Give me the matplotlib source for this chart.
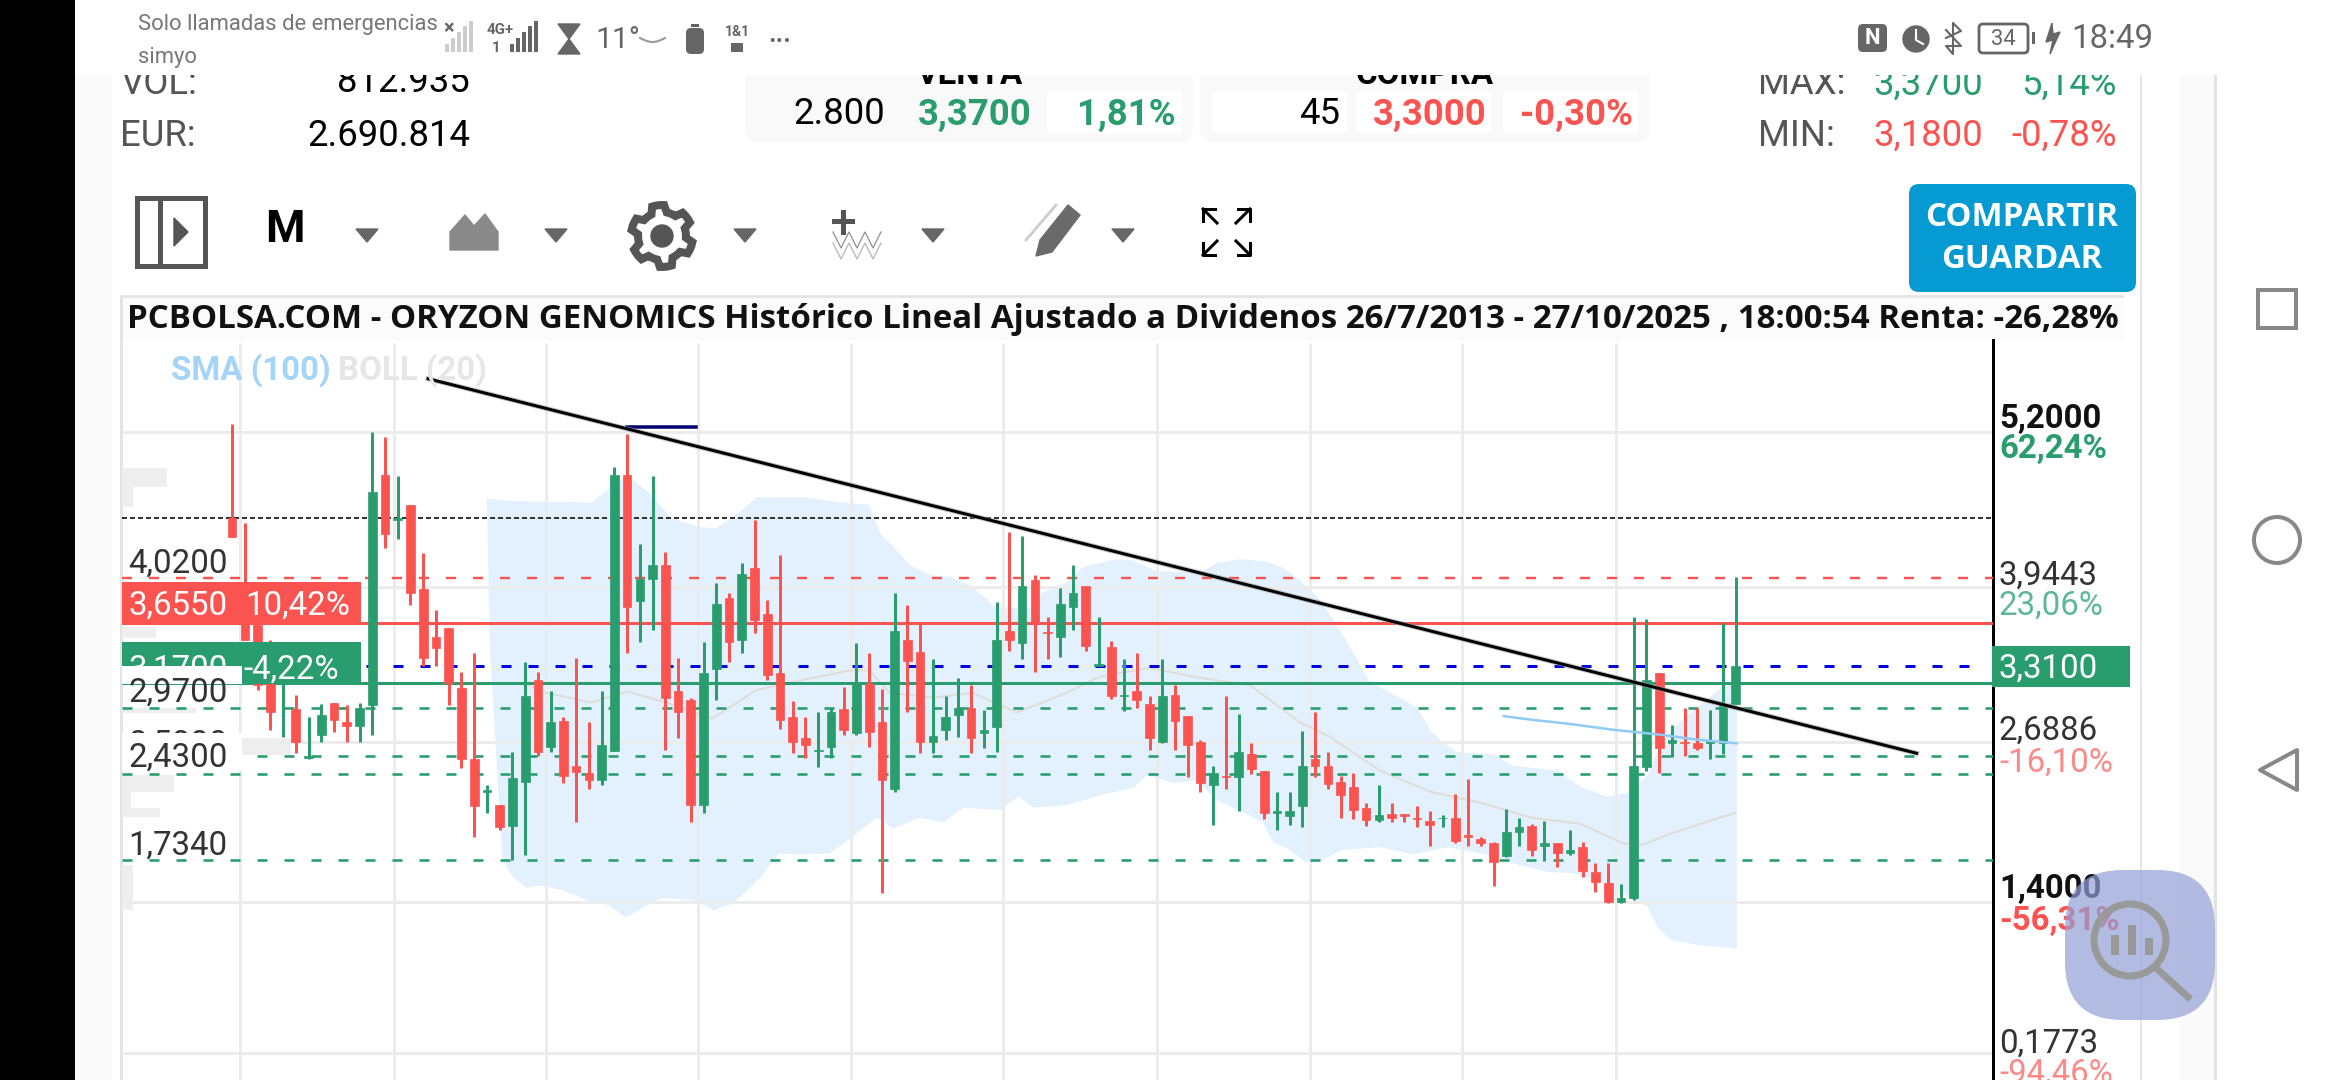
"""
Monthly candlestick screen for Oryzon Genomics with trend line and price levels.
"""

import numpy as np
import matplotlib
matplotlib.use("Agg")
import matplotlib.pyplot as plt
from matplotlib.patches import Rectangle, FancyBboxPatch, Polygon, Circle, Ellipse

plt.rcParams["font.family"] = ["Roboto", "DejaVu Sans"]
plt.rcParams["lines.scale_dashes"] = False

GREEN = "#2a9d6f"
RED = "#fb5350"
GRID = "#ececec"
PX = 0.72  # points per pixel at dpi 100

opens = [
    4.50, 3.84, 3.64, 3.44, 3.26, 2.96, 2.56, 2.75, 3.01, 2.85, 2.82, 2.99,
    4.85, 4.49, 4.61, 3.93, 3.54, 3.61, 3.13, 2.55, 2.29, 2.18, 2.01, 2.37,
    3.19, 2.65, 2.86, 2.50, 2.44, 2.38, 2.62, 4.85, 3.83, 4.01, 4.12, 3.10,
    3.03, 2.18, 3.28, 3.86, 3.52, 4.10, 3.73, 3.25, 2.89, 2.72, 2.62, 2.65,
    2.96, 2.76, 3.16, 2.85, 2.31, 3.52, 3.42, 2.69, 2.79, 2.91, 2.97, 2.76,
    2.81, 3.59, 3.49, 4.00, 3.58, 3.54, 3.78, 3.95, 3.31, 3.46, 3.06, 3.10,
    3.00, 2.69, 3.07, 2.90, 2.69, 2.34, 2.42, 2.41, 2.59, 2.46, 2.12, 2.09,
    2.17, 2.55, 2.50, 2.37, 2.33, 2.16, 2.06, 2.11, 2.11, 2.08, 2.05, 2.08,
    2.08, 1.94, 1.91, 1.87, 1.77, 1.96, 2.01, 1.85, 1.87, 1.79, 1.84, 1.64,
    1.55, 1.40, 1.43, 2.49, 3.25, 2.68, 2.69, 2.68, 2.68, 2.68, 3.00,
]
closes = [
    4.35, 3.52, 3.15, 2.93, 3.27, 2.69, 2.58, 2.91, 2.87, 2.82, 2.97, 4.71,
    4.37, 4.50, 3.90, 3.37, 3.45, 3.17, 2.55, 2.17, 2.30, 2.00, 2.40, 3.06,
    2.61, 2.85, 2.42, 2.45, 2.38, 2.67, 4.85, 3.78, 4.01, 4.12, 3.05, 2.93,
    2.18, 3.25, 3.81, 3.50, 4.05, 3.68, 3.23, 2.87, 2.69, 2.67, 2.63, 2.93,
    2.79, 3.17, 2.77, 2.38, 3.59, 3.35, 2.69, 2.74, 2.89, 2.97, 2.72, 2.79,
    3.52, 3.52, 3.95, 3.65, 3.57, 3.81, 3.90, 3.47, 3.32, 3.06, 3.07, 3.03,
    2.72, 3.06, 2.86, 2.67, 2.36, 2.44, 2.41, 2.61, 2.47, 2.12, 2.13, 2.13,
    2.50, 2.50, 2.35, 2.26, 2.14, 2.06, 2.10, 2.08, 2.09, 2.07, 2.02, 2.08,
    1.89, 1.92, 1.87, 1.72, 1.96, 2.00, 1.82, 1.87, 1.79, 1.82, 1.65, 1.56,
    1.40, 1.43, 2.50, 3.19, 2.64, 2.71, 2.68, 2.64, 2.70, 3.00, 3.31,
]
highs = [
    5.26, 4.46, 3.65, 3.52, 3.31, 3.07, 2.89, 3.00, 3.01, 2.99, 3.01, 5.20,
    5.16, 4.84, 4.61, 4.22, 3.76, 3.61, 3.26, 3.41, 2.34, 2.18, 2.61, 3.34,
    3.26, 3.10, 2.89, 3.37, 2.85, 3.10, 4.92, 5.18, 4.29, 4.84, 4.23, 3.37,
    3.05, 3.50, 3.98, 3.90, 4.14, 4.49, 3.84, 4.20, 3.02, 2.89, 2.93, 2.97,
    3.14, 3.49, 3.41, 3.12, 3.90, 3.80, 3.65, 3.36, 3.06, 3.21, 3.15, 2.95,
    3.82, 4.39, 4.36, 4.04, 3.70, 3.94, 4.12, 3.95, 3.70, 3.51, 3.36, 3.41,
    3.06, 3.36, 3.15, 2.90, 2.71, 2.50, 3.06, 2.92, 2.68, 2.46, 2.29, 2.29,
    2.78, 2.93, 2.61, 2.42, 2.44, 2.20, 2.34, 2.20, 2.11, 2.17, 2.13, 2.10,
    2.27, 2.39, 1.92, 1.88, 2.15, 2.08, 2.03, 2.05, 1.87, 1.98, 1.88, 1.71,
    1.71, 1.54, 3.70, 3.69, 3.25, 2.83, 2.97, 2.97, 2.95, 3.65, 4.03,
]
lows = [
    4.35, 3.52, 3.11, 2.79, 2.73, 2.60, 2.55, 2.69, 2.77, 2.69, 2.69, 2.75,
    4.26, 4.33, 3.80, 3.31, 3.31, 2.99, 2.48, 1.92, 2.12, 1.98, 1.74, 1.78,
    2.58, 2.61, 2.36, 2.04, 2.31, 2.34, 2.62, 3.41, 3.50, 3.60, 2.63, 2.72,
    2.04, 2.12, 3.03, 3.34, 3.41, 3.57, 3.19, 2.80, 2.60, 2.56, 2.49, 2.56,
    2.75, 2.75, 2.65, 1.47, 2.29, 2.93, 2.60, 2.60, 2.71, 2.73, 2.60, 2.64,
    2.61, 3.43, 3.36, 3.26, 3.36, 3.38, 3.60, 3.43, 3.31, 3.04, 2.94, 2.97,
    2.63, 2.68, 2.63, 2.41, 2.29, 2.02, 2.31, 2.13, 2.43, 2.07, 1.98, 2.02,
    2.00, 2.41, 2.31, 2.08, 2.07, 2.01, 2.04, 2.04, 2.04, 2.00, 1.85, 2.00,
    1.87, 1.85, 1.85, 1.53, 1.76, 1.85, 1.77, 1.73, 1.68, 1.78, 1.60, 1.48,
    1.39, 1.39, 1.41, 2.46, 2.44, 2.57, 2.58, 2.63, 2.55, 2.59, 3.00,
]

# bollinger envelope, sampled along its outline
upper_i = [
    20, 22.2, 28.2, 31, 32.7, 34.4, 36.6, 38, 40.1, 41.1, 45, 47.7, 50, 50.9,
    51.9, 53.2, 54.8, 56.3, 57.9, 59.3, 60, 62.9, 63.6, 65.5, 66.8, 69.4, 70.7,
    72.6, 74.2, 76, 77.3, 79.1, 81.2, 82.5, 83.8, 85.4, 87.4, 89.2, 90.9, 93,
    94, 95, 96.1, 99, 100.5, 104, 105.8, 107.9, 109.5, 111.1, 111.8, 112.9,
    117, 118.1,
]
upper_band = [
    4.66, 4.64, 4.63, 4.85, 4.71, 4.51, 4.43, 4.42, 4.57, 4.67, 4.67, 4.63, 4.61,
    4.37, 4.27, 4.12, 4.04, 4.03, 3.96, 3.84, 3.77, 3.78, 3.90, 3.98, 4.11, 4.17,
    4.16, 4.07, 4.07, 4.06, 4.14, 4.17, 4.15, 4.10, 4.00, 3.84, 3.52, 3.19, 3.09,
    2.97, 2.79, 2.69, 2.61, 2.59, 2.50, 2.46, 2.33, 2.25, 2.28, 2.42, 2.60, 2.79,
    3.14, 3.15,
]
lower_i = [
    20.2, 21.2, 22, 23.1, 24.3, 26, 27.8, 29.6, 30.9, 32.9, 33.7, 36.2, 37.8,
    39.4, 41.5, 42.9, 44.6, 46.9, 48.5, 50.6, 51.9, 54, 55.8, 57.4, 60.3, 61.7,
    62.9, 65.5, 68.1, 70.7, 71.8, 73.9, 75.7, 77.3, 79.4, 80.9, 81.7, 83, 84.2,
    85.6, 87.2, 90.1, 92.7, 95.4, 98, 100.5, 103.2, 105.3, 108.2, 110, 111.1,
    111.9, 112.9, 115, 118.1,
]
lower_band = [
    3.52, 1.74, 1.60, 1.51, 1.53, 1.49, 1.41, 1.37, 1.27, 1.39, 1.43, 1.41, 1.33,
    1.39, 1.60, 1.79, 1.78, 1.79, 1.91, 2.08, 1.99, 2.08, 2.04, 2.16, 2.14, 2.25,
    2.16, 2.18, 2.26, 2.32, 2.42, 2.36, 2.38, 2.22, 2.12, 2.04, 1.88, 1.82, 1.72,
    1.74, 1.82, 1.84, 1.78, 1.84, 1.79, 1.71, 1.64, 1.63, 1.53, 1.41, 1.36, 1.19,
    1.09, 1.05, 1.02,
]
middle_i = [
    22.9, 24.6, 28.2, 31, 34.1, 37.7, 41.1, 44.6, 48.5, 50, 51.6, 55, 58.1, 61.6,
    65.5, 68.1, 72, 76, 79.9, 83.8, 86.2, 90.1, 94, 98, 101.9, 105.8, 109.2,
    110.7, 112.9, 116.2, 118,
]
middle_band = [
    3.17, 3.09, 3.01, 3.10, 3.01, 2.88, 3.11, 3.19, 3.27, 3.27, 3.09, 3.05, 3.09,
    2.93, 3.09, 3.22, 3.29, 3.21, 3.15, 2.85, 2.73, 2.46, 2.29, 2.20, 2.08, 2.03,
    1.87, 1.86, 1.95, 2.06, 2.12,
]

sma_i = [99.8, 102.1, 104.8, 108.4, 112.1, 115, 118.1]
sma_100 = [2.90, 2.87, 2.84, 2.79, 2.75, 2.71, 2.68]

trend_i = [15.38, 132.2]
trend_price = [5.63, 2.60]

grid_prices = [5.2, 3.9443, 2.6886, 1.4, 0.1773]
grid_i = [0.6, 12.7, 24.6, 36.6, 48.6, 60.5, 72.6, 84.6, 96.5, 108.6]
green_levels = [2.97, 2.58, 2.43, 1.734]

# volume profile stubs on the left edge: low, high, length in candles
profile_low = [4.754, 4.592, 3.53, 2.926, 2.586, 2.287, 2.157, 2.084, 1.332]
profile_high = [4.908, 4.754, 3.62, 2.966, 2.724, 2.424, 2.287, 2.157, 1.696]
profile_len = [3.5, 0.9, 2.7, 5.8, 13.3, 4.1, 0.7, 3.0, 0.9]

fig = plt.figure(figsize=(23.4, 10.8), dpi=100, facecolor="white")


def pixel_axes(zorder):
    a = fig.add_axes([0, 0, 1, 1], zorder=zorder)
    a.set_xlim(0, 2340)
    a.set_ylim(1080, 0)
    a.axis("off")
    return a


def label(a, x, y, s, size, color="black", ha="left", weight="normal", family=None, zorder=10):
    return a.text(x, y + 2.5, s, fontsize=size * PX, color=color, ha=ha, va="center",
                  fontweight=weight, family=family, zorder=zorder)


def rect(a, x0, y0, x1, y1, color, zorder=1, **kw):
    a.add_patch(Rectangle((x0, y0), x1 - x0, y1 - y0, facecolor=color,
                          edgecolor="none", zorder=zorder, **kw))


def rounded(a, x0, y0, x1, y1, r, color, zorder=1, **kw):
    a.add_patch(FancyBboxPatch((x0 + r, y0 + r), x1 - x0 - 2 * r, y1 - y0 - 2 * r,
                               boxstyle=f"round,pad={r},rounding_size={r}",
                               facecolor=color, edgecolor="none", zorder=zorder, **kw))


def draw_page(a):
    rect(a, 0, 0, 75, 1080, "black")
    rect(a, 75, 75, 112, 1080, "#fafafa")
    rect(a, 2180, 75, 2216, 1080, "#fafafa")
    rect(a, 2214, 0, 2217, 1080, "#e3e3e3")
    rect(a, 2140, 75, 2142, 1080, "#e6e6e6")

    # quote panels
    rounded(a, 745, 55, 1193, 142, 14, "#f9f9f9")
    rounded(a, 1200, 55, 1650, 142, 14, "#f9f9f9")
    rect(a, 1047, 91, 1182, 133, "white", 2)
    rect(a, 1212, 91, 1347, 133, "white", 2)
    rect(a, 1356, 91, 1491, 133, "white", 2)
    rect(a, 1503, 91, 1638, 133, "white", 2)

    label(a, 120, 82, "VOL:", 36.5, "#555555")
    label(a, 470, 80, "812.935", 36.5, ha="right")
    label(a, 120, 133, "EUR:", 36.5, "#555555")
    label(a, 470, 133, "2.690.814", 36.5, ha="right")
    label(a, 970, 72, "VENTA", 33, ha="center", weight="bold")
    label(a, 885, 112, "2.800", 36.5, ha="right")
    label(a, 975, 112, "3,3700", 36.5, GREEN, ha="center", weight="bold")
    label(a, 1176, 112, "1,81%", 36.5, GREEN, ha="right", weight="bold")
    label(a, 1425, 72, "COMPRA", 33, ha="center", weight="bold")
    label(a, 1340, 112, "45", 36.5, ha="right")
    label(a, 1430, 112, "3,3000", 36.5, RED, ha="center", weight="bold")
    label(a, 1633, 112, "-0,30%", 36.5, RED, ha="right", weight="bold")
    label(a, 1758, 82, "MAX:", 36.5, "#555555")
    label(a, 1928, 82, "3,3700", 36.5, GREEN, ha="center")
    label(a, 2117, 82, "5,14%", 36.5, GREEN, ha="right")
    label(a, 1758, 133, "MIN:", 36.5, "#555555")
    label(a, 1928, 133, "3,1800", 36.5, RED, ha="center")
    label(a, 2117, 133, "-0,78%", 36.5, RED, ha="right")

    draw_toolbar(a)

    # chart frame
    rect(a, 120, 295, 2124, 298, "#e4e4e4")
    rect(a, 120, 298, 123, 1080, "#e4e4e4")
    rect(a, 123, 298, 2124, 340, "#fbfbfb")
    label(a, 127, 317, "PCBOLSA.COM - ORYZON GENOMICS Histórico Lineal Ajustado a Dividenos "
          "26/7/2013 - 27/10/2025 , 18:00:54 Renta: -26,28%", 33, "#111111",
          weight="bold", family="Open Sans")


def draw_toolbar(a):
    icon = "#555555"
    a.add_patch(Rectangle((137, 198), 68, 68, fill=False, edgecolor=icon, lw=5 * PX))
    a.plot([160, 160], [198, 266], color=icon, lw=5 * PX)
    a.add_patch(Polygon([[174, 218], [188, 232], [174, 246]], color=icon))
    label(a, 285, 227, "M", 45, ha="center", weight="bold")
    for x in [367, 556, 745, 933, 1123]:
        a.add_patch(Polygon([[x - 11, 229], [x + 11, 229], [x, 242]], color="#666666"))

    # chart type
    a.add_patch(Polygon([[450, 250], [450, 232], [465, 215], [474, 226], [485, 214],
                         [498, 232], [498, 250]], color="#8a8a8a"))

    # gear
    angles = np.linspace(0, 2 * np.pi, 49)[:-1]
    radii = np.where((np.arange(48) % 8) < 4, 31, 24)
    a.add_patch(Polygon(np.c_[662 + radii * np.cos(angles + 0.2), 236 + radii * np.sin(angles + 0.2)],
                        facecolor="white", edgecolor=icon, lw=8 * PX))
    a.add_patch(Circle((662, 236), 11, color=icon))

    # indicators
    a.plot([843, 843], [212, 232], color=icon, lw=5 * PX)
    a.plot([834, 852], [221, 221], color=icon, lw=5 * PX)
    for dy, c in [(0, "#999999"), (11, "#bbbbbb")]:
        a.plot(np.arange(833, 888, 8), 240 + dy + 8 * (np.arange(7) % 2 * 2 - 1), color=c, lw=1)

    # pencil
    a.add_patch(Polygon([[1040, 240], [1068, 205], [1080, 215], [1052, 252], [1036, 256]], color="#6a6a6a"))
    a.plot([1026, 1056], [240, 205], color="#cccccc", lw=2)
    a.plot([1032, 1062], [246, 210], color="white", lw=1)

    # expand arrows
    for x, y, dx, dy in [(1203, 209, 1, 1), (1250, 209, -1, 1), (1203, 255, 1, -1), (1250, 255, -1, -1)]:
        a.plot([x + 12 * dx, x, x], [y, y, y + 12 * dy], color="black", lw=3 * PX)
        a.plot([x, x + 14 * dx], [y, y + 14 * dy], color="black", lw=3 * PX)

    rounded(a, 1909, 184, 2136, 292, 10, "#059ad2")
    label(a, 2022, 215, "COMPARTIR", 33, "white", ha="center", weight="bold", family="Open Sans")
    label(a, 2022, 257, "GUARDAR", 33, "white", ha="center", weight="bold", family="Open Sans")


def draw_chart(ax):
    x = np.arange(len(opens))
    o, c, h, l = map(np.array, (opens, closes, highs, lows))

    ax.barh(profile_low, profile_len, height=np.array(profile_high) - np.array(profile_low),
            left=ax.get_xlim()[0], align="edge", color="#eeeeee", zorder=1)

    ax.fill(list(upper_i) + list(lower_i)[::-1], list(upper_band) + list(lower_band)[::-1],
            color="#bbdefb", alpha=0.42, lw=0, zorder=2)

    for g in grid_prices:
        ax.axhline(g, color=GRID, lw=3 * PX, zorder=2.5)
    ax.vlines(grid_i, ax.get_ylim()[0], 5.92, color=GRID, lw=3 * PX, zorder=2.5)

    ax.plot(middle_i, middle_band, color="#e0dcd8", lw=2 * PX, zorder=3)

    dash = (0, (10 * PX, 17 * PX))
    ax.axhline(4.50, color="#333333", lw=2 * PX, ls=(0, (5 * PX, 3 * PX)), zorder=4)
    ax.axhline(4.02, color=RED, lw=2.4 * PX, ls=dash, zorder=4)
    ax.axhline(3.655, color=RED, lw=3 * PX, zorder=4)
    ax.plot([-8.6, 137.3], [3.31, 3.31], color="#0000e0", lw=3 * PX, ls=dash, zorder=4)
    ax.axhline(3.17, color=GREEN, lw=3 * PX, zorder=4)
    for level in green_levels:
        ax.axhline(level, color=GREEN, lw=2.6 * PX, ls=dash, zorder=4)

    up = c >= o
    for mask, color in [(up, GREEN), (~up, RED)]:
        ax.vlines(x[mask], l[mask], h[mask], color=color, lw=3 * PX, zorder=5)
        ax.bar(x[mask], (c - o)[mask], bottom=o[mask], width=0.68, color=color,
               edgecolor=color, lw=0.5, zorder=5)

    ax.plot(sma_i, sma_100, color="#8fcbf5", lw=2.5 * PX, zorder=6)
    ax.plot([31, 36.4], [5.24, 5.24], color="#00006e", lw=3.5 * PX, zorder=6)
    ax.plot(trend_i, trend_price, color="#9a9a9a", lw=5 * PX, alpha=0.6, zorder=7)
    ax.plot(trend_i, trend_price, color="black", lw=3 * PX, zorder=7)


def draw_overlays(a):
    rect(a, 0, 0, 2340, 75, "white", 1)
    rect(a, 0, 0, 75, 75, "black", 1)

    # left side price labels
    rect(a, 122, 582, 361, 623, RED, 3)
    label(a, 128, 603, "3,6550", 33, "white")
    label(a, 245, 603, "10,42%", 33, "white")
    rect(a, 122, 642, 361, 684, GREEN, 3)
    label(a, 128, 667, "3,1700", 33, "white", zorder=3.5)
    label(a, 243, 667, "-4,22%", 33, "white")
    rect(a, 122, 666, 242, 684, "white", 4)
    label(a, 128, 561, "4,0200", 33, "#333333")
    label(a, 128, 690, "2,9700", 33, "#333333")
    label(a, 128, 742, "2,5800", 33, "#333333", zorder=3.5)
    rect(a, 122, 733, 242, 770, "white", 4)
    label(a, 128, 755, "2,4300", 33, "#333333")
    label(a, 128, 843, "1,7340", 33, "#333333")

    label(a, 171, 368, "SMA (100)", 33, "#a4d4f8", weight="bold")
    label(a, 338, 368, "BOLL (20)", 33, "#e6e6e6", weight="bold")

    # right side axis labels
    rect(a, 1992, 646, 2130, 687, GREEN, 3)
    label(a, 1999, 666, "3,3100", 33, "white", zorder=5)
    label(a, 1999, 416, "5,2000", 33, "#111111", weight="bold")
    label(a, 1999, 447, "62,24%", 33, GREEN, weight="bold")
    label(a, 1999, 573, "3,9443", 33, "#333333")
    label(a, 1999, 603, "23,06%", 33, "#5cb897")
    label(a, 1999, 728, "2,6886", 33, "#333333")
    label(a, 1999, 760, "-16,10%", 33, "#fb8a88")
    label(a, 1999, 887, "1,4000", 33, "#111111", weight="bold")
    label(a, 1999, 918, "-56,31%", 33, RED, weight="bold")
    label(a, 1999, 1041, "0,1773", 33, "#333333")
    label(a, 1999, 1071, "-94,46%", 33, "#fb8a88")

    # floating magnifier
    rounded(a, 2065, 870, 2215, 1020, 58, "#929fd7", 20, alpha=0.7)
    gray = "#999999"
    a.add_patch(Circle((2130, 940), 36, fill=False, edgecolor=gray, lw=7 * PX, zorder=21))
    a.plot([2156, 2188], [968, 997], color=gray, lw=7 * PX, zorder=21)
    for bx, by, bh in [(2111, 935, 20), (2128, 925, 30), (2145, 938, 17)]:
        rect(a, bx, by, bx + 8, by + bh, gray, 21)

    # navigation buttons
    nav = "#888888"
    a.add_patch(Rectangle((2258, 290), 38, 38, fill=False, edgecolor=nav, lw=4 * PX))
    a.add_patch(Ellipse((2277, 540), 46, 46, fill=False, edgecolor=nav, lw=4 * PX))
    a.add_patch(Polygon([[2297, 750], [2297, 790], [2260, 770]], fill=False, edgecolor=nav,
                        lw=4 * PX, joinstyle="round"))

    # status bar
    sb = "#666666"
    label(a, 138, 22, "Solo llamadas de emergencias", 22, "#777777", zorder=3)
    label(a, 138, 55, "simyo", 22, "#777777", zorder=3)
    label(a, 449, 26, "×", 20, sb, ha="center", weight="bold", zorder=3)
    for i, h in enumerate([8, 14, 20, 26, 31]):
        rect(a, 445 + i * 6, 52 - h, 449 + i * 6, 52, "#cccccc", 3)
        rect(a, 510 + i * 6, 52 - h, 514 + i * 6, 52, sb, 3)
    label(a, 500, 27, "4G+", 15, sb, ha="center", weight="bold", zorder=3)
    label(a, 496, 46, "1", 15, sb, ha="center", weight="bold", zorder=3)
    a.add_patch(Polygon([[558, 24], [580, 24], [558, 54], [580, 54]], color=sb, zorder=3))
    label(a, 595, 37, "11°", 30, "#666666", zorder=3)
    a.plot(np.linspace(640, 665, 12), 38 + 4 * np.sin(np.linspace(0, np.pi, 12)), color="#999999", lw=1.5, zorder=3)
    rounded(a, 686, 28, 704, 54, 5, sb, 3)
    rect(a, 691, 24, 699, 27, sb, 3)
    label(a, 737, 30, "1&1", 14, sb, ha="center", weight="bold", zorder=3)
    rect(a, 731, 43, 743, 52, sb, 3)
    label(a, 780, 33, "...", 26, sb, ha="center", weight="bold", zorder=3)

    rounded(a, 1858, 24, 1887, 52, 5, sb, 3)
    label(a, 1872, 36, "N", 22, "white", ha="center", weight="bold", zorder=4)
    a.add_patch(Circle((1916, 39), 13, color=sb, zorder=3))
    a.plot([1916, 1916, 1923], [30, 40, 44], color="white", lw=1.5, zorder=4)
    a.plot([1946, 1961, 1946, 1953, 1953, 1961, 1946], [30, 46, 54 - 8, 54, 23, 31, 38], color=sb, lw=1.5, zorder=3)
    a.add_patch(FancyBboxPatch((1980, 25), 47, 27, boxstyle="round,pad=1,rounding_size=4",
                               fill=False, edgecolor=sb, lw=2, zorder=3))
    label(a, 2003, 37, "34", 22, sb, ha="center", zorder=4)
    rect(a, 2032, 32, 2035, 44, sb, 3)
    a.add_patch(Polygon([[2052, 23], [2046, 42], [2053, 40], [2050, 54], [2060, 32], [2053, 34]], color=sb, zorder=3))
    label(a, 2071, 37, "18:49", 33, "#666666", zorder=3)


background = pixel_axes(0)
draw_page(background)

ax = fig.add_axes([122 / 2340, 0, 1871 / 2340, 740 / 1080], zorder=1)
ax.set_xlim(-8.642, 138.2)
ax.set_ylim(-0.0435, 5.9435)
ax.patch.set_alpha(0)
ax.set_xticks([])
ax.set_yticks([])
for side in ["top", "left", "bottom"]:
    ax.spines[side].set_visible(False)
ax.spines["right"].set_linewidth(3 * PX)
draw_chart(ax)

foreground = pixel_axes(2)
draw_overlays(foreground)

fig.savefig("out.png", dpi=100)
